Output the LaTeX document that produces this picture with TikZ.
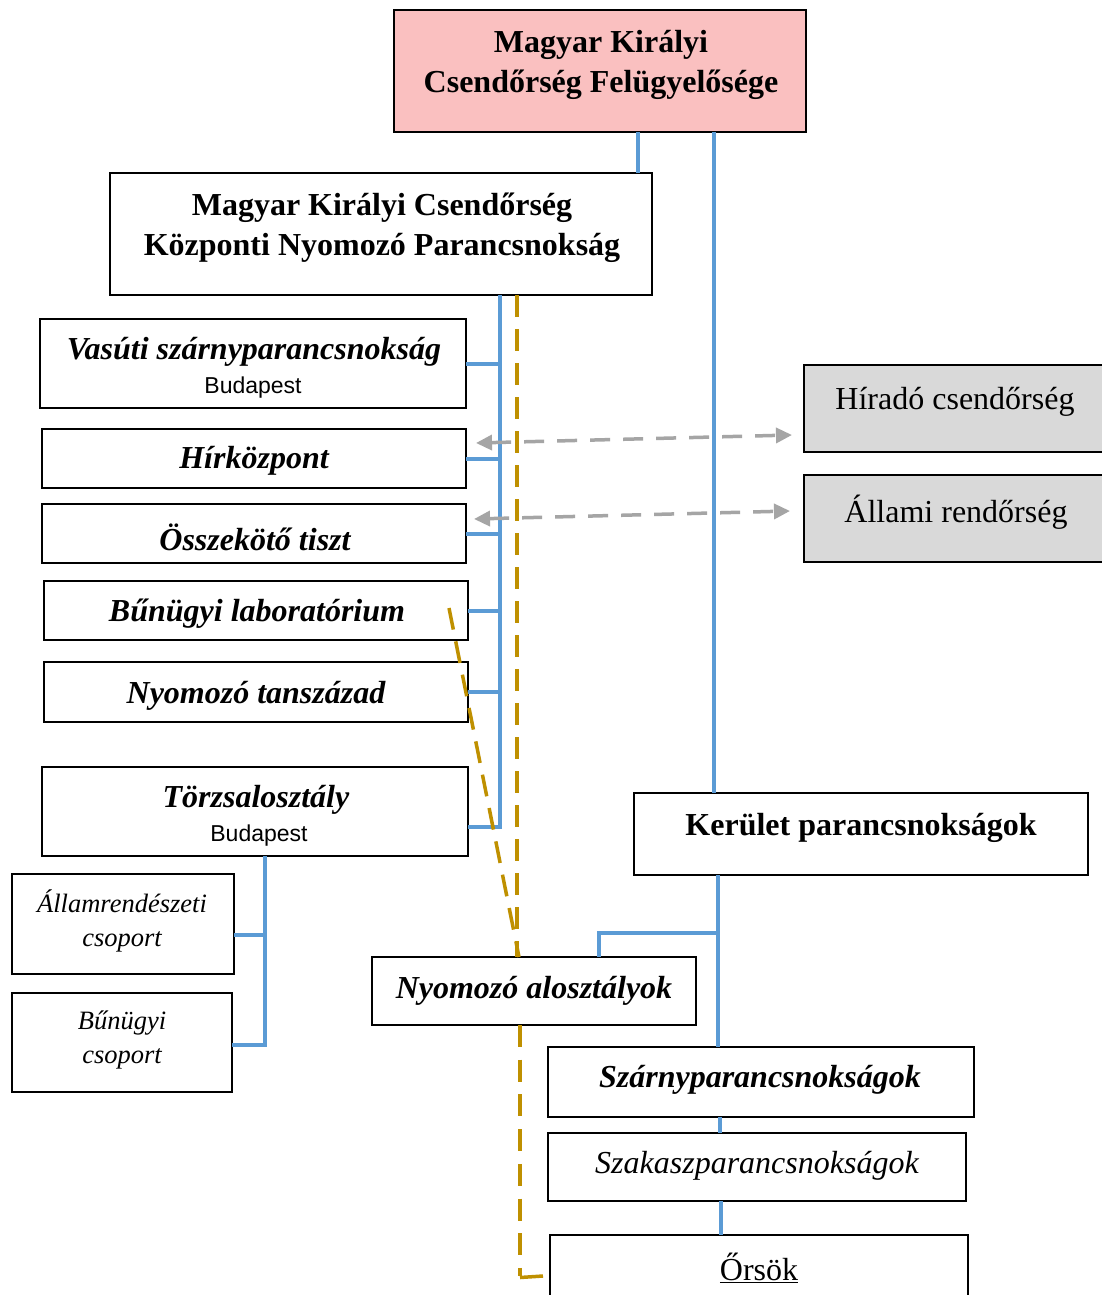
\documentclass[tikz,border=0pt]{standalone}
\usepackage{fontspec}
\setmainfont{Liberation Serif}
\newfontfamily\arialf{Liberation Sans}
\usetikzlibrary{arrows.meta,calc}
\definecolor{bluel}{RGB}{91,155,213}
\definecolor{goldl}{RGB}{191,144,0}
\definecolor{greyl}{RGB}{165,165,165}
\definecolor{pinkf}{RGB}{250,192,192}
\definecolor{greyf}{RGB}{217,217,217}
\newcommand\bx[6]{\node[#6, anchor=north west, minimum width={#4-#2}, minimum height={#5-#3}] (#1) at (#2,#3) {};}
\begin{document}
\begin{tikzpicture}[x=1pt,y=-1pt,
  box/.style={draw=black, line width=1.8pt, inner sep=0pt, outer sep=0pt, fill=white},
  txt/.style={align=center, inner sep=0pt, yshift=-3pt},
  tB/.style={txt, font=\fontsize{32}{40}\selectfont\bfseries},
  tBI/.style={txt, font=\fontsize{32}{40}\selectfont\bfseries\itshape},
  tI/.style={txt, font=\fontsize{32}{40}\selectfont\itshape},
  tR/.style={txt, font=\fontsize{32}{40}\selectfont},
  tIs/.style={txt, font=\fontsize{26.5}{34}\selectfont\itshape},
  tSf/.style={txt, font=\arialf\fontsize{23}{28}\selectfont},
  bl/.style={draw=bluel, line width=4pt},
  gd/.style={draw=goldl, line width=3.5pt, dash pattern=on 22pt off 12pt},
  ga/.style={draw=greyl, line width=3.5pt, dash pattern=on 20pt off 13pt, {Triangle[length=16pt,width=15pt]}-{Triangle[length=16pt,width=15pt]}}
]
\useasboundingbox (0,0) rectangle (1102,1295);
\clip (0,0) rectangle (1102,1295);
\fill[white] (0,0) rectangle (1102,1295);

% boxes
\bx{felugy}{394}{10}{806}{132}{box,fill=pinkf}
\bx{knyp}{110}{173}{652}{295}{box}
\bx{vas}{40}{319}{466}{408}{box}
\bx{hir}{42}{429}{466}{488}{box}
\bx{ossz}{42}{504}{466}{563}{box}
\bx{lab}{44}{581}{468}{640}{box}
\bx{tansz}{44}{662}{468}{722}{box}
\bx{torzs}{42}{767}{468}{856}{box}
\bx{allam}{12}{874}{234}{974}{box}
\bx{bcs}{12}{993}{232}{1092}{box}
\bx{hirado}{804}{365}{1112}{452}{box,fill=greyf}
\bx{rendor}{804}{475}{1112}{562}{box,fill=greyf}
\bx{kerulet}{634}{793}{1088}{875}{box}
\bx{alo}{372}{957}{696}{1025}{box}
\bx{szarny}{548}{1047}{974}{1117}{box}
\bx{szakasz}{548}{1133}{966}{1201}{box}
\bx{orsok}{550}{1235}{968}{1310}{box}

% texts
\node[tB] (t-felugy) at (601,62) {Magyar Királyi\\Csendőrség Felügyelősége};
\node[tB] (t-knyp) at (382,225) {Magyar Királyi Csendőrség\\Központi Nyomozó Parancsnokság};
\node[tBI] (t-vas) at (254,349) {Vasúti szárnyparancsnokság};
\node[tSf] (t-vas2) at (253,385) {Budapest};
\node[tBI] (t-hir) at (254,458) {Hírközpont};
\node[tBI] (t-ossz) at (255,534) {Összekötő tiszt};
\node[tBI] (t-lab) at (257,611) {Bűnügyi laboratórium};
\node[tBI] (t-tansz) at (256,693) {Nyomozó tanszázad};
\node[tBI] (t-torzs) at (256,797) {Törzsalosztály};
\node[tSf] (t-torzs2) at (259,833) {Budapest};
\node[tIs] (t-allam) at (122,918) {Államrendészeti\\csoport};
\node[tIs] (t-bcs) at (122,1037) {Bűnügyi\\csoport};
\node[tR] (t-hirado) at (955,399) {Híradó csendőrség};
\node[tR] (t-rendor) at (956,509) {Állami rendőrség};
\node[tB] (t-kerulet) at (861,825) {Kerület parancsnokságok};
\node[tBI] (t-alo) at (534,988) {Nyomozó alosztályok};
\node[tBI] (t-szarny) at (760,1077) {Szárnyparancsnokságok};
\node[tI] (t-szakasz) at (757,1163) {Szakaszparancsnokságok};
\node[tR] (t-orsok) at (759,1265) {\underline{Őrsök}};

% helper coordinates
\coordinate (xa) at (638,0);
\coordinate (xb) at (714,0);
\coordinate (xg) at (517,0);
\coordinate (xg2) at (519,0);
\coordinate (xn) at (599,0);
\coordinate (xs1) at (720,0);
\coordinate (xs2) at (721,0);
\coordinate (busEnd) at (500,827);
\coordinate (kj) at (718,933);
\coordinate (ta) at (265,935);
\coordinate (tc) at (265,1045);
\coordinate (gd1) at (449,608);
\coordinate (gEnd) at (520,1276);

% blue connectors
\draw[bl] (felugy.south -| xa) -- (knyp.north -| xa);
\draw[bl] (felugy.south -| xb) -- (kerulet.north -| xb);
\draw[bl] (knyp.south -| busEnd) -- (busEnd) -- (busEnd -| torzs.east);
\foreach \n in {vas,hir,ossz,lab,tansz}
  \draw[bl] (\n.east) -- (\n.east -| busEnd);
\draw[bl] (torzs.south -| tc) -- (tc) -- (tc -| bcs.east);
\draw[bl] (ta) -- (ta -| allam.east);
\draw[bl] (kerulet.south -| kj) -- (szarny.north -| kj);
\draw[bl] (kj) -- (kj -| xn) -- (alo.north -| xn);
\draw[bl] (szarny.south -| xs1) -- (szakasz.north -| xs1);
\draw[bl] (szakasz.south -| xs2) -- (orsok.north -| xs2);

% gold dashed
\draw[gd] (knyp.south -| xg) -- (alo.north -| xg);
\draw[gd] (gd1) -- (alo.north -| xg2);
\draw[gd, dash pattern=on 22pt off 12.7pt] (alo.south -| gEnd) -- (gEnd);
\draw[gd, solid] ([yshift=-1.5pt]gEnd) -- ([xshift=-7pt]gEnd -| orsok.west);

% grey dashed double arrows
\draw[ga] ($(hir.east)+(10,-15.5)$) -- ($(hirado.west)+(-12,26.5)$);
\draw[ga] ($(ossz.east)+(8,-14.5)$) -- ($(rendor.west)+(-14,-7.5)$);
\end{tikzpicture}
\end{document}
